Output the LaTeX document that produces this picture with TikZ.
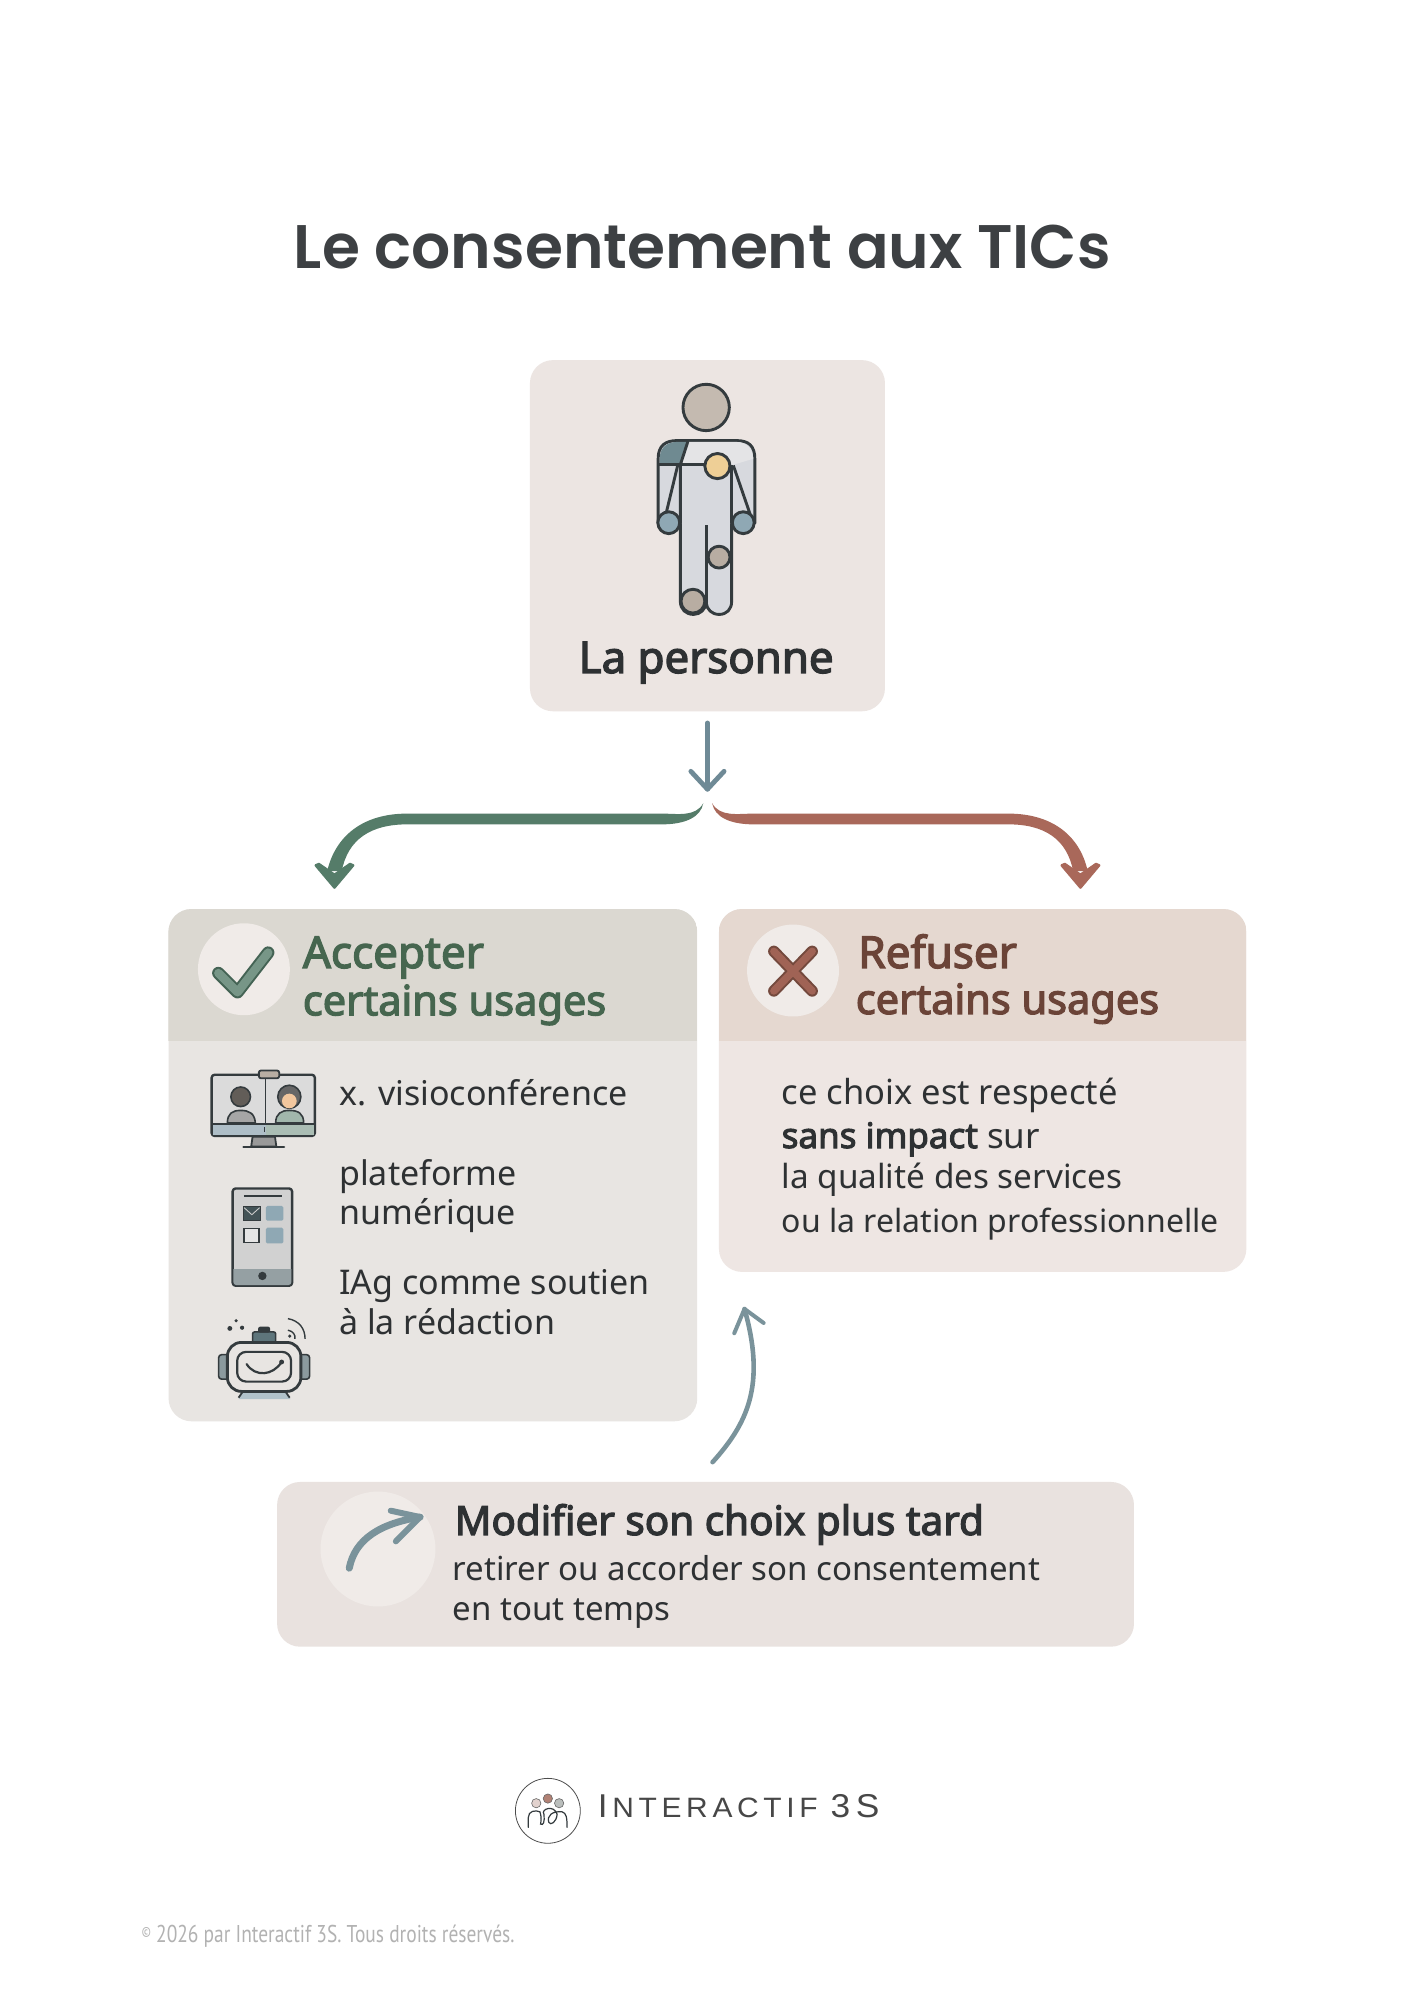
\documentclass[tikz,border=0pt]{standalone}
\usepackage{fontspec}
\usetikzlibrary{calc}
\setmainfont{Noto Sans}[AutoFakeBold=3]
\newfontfamily\ftitle{Poppins SemiBold}
\newfontfamily\fcopy[FakeStretch=0.8]{PT Sans}
\newfontfamily\flogo[FakeStretch=1.07]{Liberation Sans}
\definecolor{ink}{HTML}{2E3133}
\definecolor{titlec}{HTML}{3D4043}
\definecolor{cardp}{HTML}{ECE5E2}
\definecolor{hdrA}{HTML}{DBD8D1}
\definecolor{bodyA}{HTML}{E8E5E2}
\definecolor{hdrR}{HTML}{E5D8D0}
\definecolor{bodyR}{HTML}{EEE6E3}
\definecolor{bodyM}{HTML}{E9E2DF}
\definecolor{disc}{HTML}{F0EBE8}
\definecolor{greenT}{HTML}{46664F}
\definecolor{redT}{HTML}{6B4438}
\definecolor{greenS}{HTML}{557C69}
\definecolor{redS}{HTML}{A9685A}
\definecolor{slate}{HTML}{6F8A96}
\definecolor{slateb}{HTML}{7A939B}
\definecolor{iline}{HTML}{343B3E}
\definecolor{limb}{HTML}{D7D9DE}
\definecolor{light}{HTML}{E4E4E6}
\definecolor{patch}{HTML}{6F8A91}
\definecolor{headc}{HTML}{C4BAB0}
\definecolor{chest}{HTML}{EECF96}
\definecolor{hand}{HTML}{8FA8B4}
\definecolor{knee}{HTML}{B8ADA2}
\def\ux{1.277pt}
\tikzset{
  card/.style={rounded corners=23pt,inner sep=0pt,draw=none},
  txt/.style={anchor=base west,inner sep=0pt},
  ttlbig/.style={txt,font=\fontsize{44}{44}\selectfont\bfseries},
  ttl/.style={txt,font=\fontsize{41.5}{42}\selectfont\bfseries},
  bodytxt/.style={txt,text=ink,font=\fontsize{34}{35}\selectfont},
  ic/.style={draw=iline,line width=2.9pt,line join=round},
  arrowline/.style={line cap=round,line join=round},
}
\begin{document}
\begin{tikzpicture}[x=1.277pt,y=-1.277pt]
\useasboundingbox[fill=white] (0,0) rectangle (1107.28,1566.18);

\node[txt,text=titlec,font=\ftitle\fontsize{61.5}{62}\selectfont] (title) at (230,210) {Le consentement aux TICs};

% person card
\node[card,fill=cardp,minimum width=278*\ux,minimum height=275*\ux] (person) at (554,419.5) {};
\begin{scope}[shift={(408.3,275)},scale=0.2593]
  \draw[ic,fill=headc] (558,170) circle (70);
  \draw[ic,fill=limb] (413,520) -- (413,325) .. controls (413,285) and (435,270) .. (470,270) -- (650,270) .. controls (685,270) and (705,285) .. (705,325) -- (705,520) -- (635,520) -- (635,755) .. controls (635,780) and (620,795) .. (597,795) .. controls (575,795) and (560,780) .. (558,760) .. controls (556,780) and (540,795) .. (520,795) .. controls (497,795) and (480,780) .. (480,755) -- (480,520) -- cycle;
  \fill[patch] (418,343) -- (418,320) .. controls (420,290) and (440,275) .. (470,274) -- (503,274) -- (480,343) -- cycle;
  \fill[light] (507,274) -- (650,274) .. controls (680,275) and (698,295) .. (700,325) -- (640,343) -- (485,343) -- cycle;
  \draw[ic] (415,343) -- (550,343);
  \draw[ic] (503,272) -- (480,343) -- (480,520);
  \draw[ic] (635,343) -- (635,520);
  \draw[ic] (472,345) -- (437,490);
  \draw[ic] (640,345) -- (690,490);
  \draw[ic] (560,525) -- (560,770);
  \draw[ic,fill=hand] (445,518) circle (33);
  \draw[ic,fill=hand] (670,518) circle (33);
  \draw[ic,fill=chest] (592,347) circle (38);
  \draw[ic,fill=knee] (597,622) circle (33);
  \draw[ic,fill=knee] (518,755) circle (36);
\end{scope}
\node[txt,text=ink,font=\fontsize{43.8}{44}\selectfont\bfseries] (plabel) at (453,527) {La personne};

% connectors
\coordinate (dS) at ([yshift=-9*\ux]person.south);
\coordinate (dT) at (554,618);
\draw[arrowline,slate,line width=4.8pt] (dS) -- (dT);
\draw[arrowline,slate,line width=4.8pt] (541,604) -- (dT) -- (567,604);

\begin{scope}[shift={(237.5,565)},xscale=0.4068,yscale=0.2632]
  \coordinate (gS) at (770,243);
  \coordinate (gT) at (60,494);
  \coordinate (rS) at (787,243);
  \coordinate (rT) at (1496,494);
  \fill[greenS] (gS) .. controls (755,285) and (720,274) .. (690,274) -- (200,274) .. controls (115,274) and (62,340) .. (46,445) -- (74,445) .. controls (86,350) and (130,306) .. (200,306) -- (690,306) .. controls (735,306) and (765,285) .. (gS) -- cycle;
  \filldraw[greenS,line width=2.5pt,line join=round] (gT) -- (24,428) -- (30,424) -- (60,456) -- (90,424) -- (96,428) -- cycle;
  \fill[redS] (rS) .. controls (802,285) and (837,274) .. (867,274) -- (1357,274) .. controls (1442,274) and (1495,340) .. (1510,445) -- (1482,445) .. controls (1470,350) and (1427,306) .. (1357,306) -- (867,306) .. controls (822,306) and (792,285) .. (rS) -- cycle;
  \filldraw[redS,line width=2.5pt,line join=round] (rT) -- (1460,428) -- (1466,424) -- (1496,456) -- (1526,424) -- (1532,428) -- cycle;
\end{scope}

% accept card
\node[card,fill=bodyA,minimum width=414*\ux,minimum height=401*\ux] (accept) at (339,912.5) {};
\begin{scope}
  \clip[rounded corners=23pt] (accept.north west) rectangle (accept.south east);
  \fill[hdrA] (accept.north west) rectangle (546,815);
\end{scope}
\fill[disc] (191,759) circle (36);
\draw[line width=12.5pt,draw=greenS!80!black,line join=round,line cap=round] (171,762) -- (186,777) -- (210,746);
\draw[line width=8.5pt,draw=greenS!80!white,line join=round,line cap=round] (171,762) -- (186,777) -- (210,746);
\node[ttlbig,text=greenT] (acc1) at (237,758) {Accepter};
\node[ttl,text=greenT] (acc2) at (237,795) {certains usages};
\node[bodytxt] (a1) at (265.5,866) {x. visioconférence};
\node[bodytxt] (a2) at (265.5,928) {plateforme};
\node[bodytxt] (a3) at (265.5,959) {numérique};
\node[bodytxt] (a4) at (265.5,1014) {IAg comme soutien};
\node[bodytxt] (a5) at (265.5,1045) {à la rédaction};

\begin{scope}[shift={(126,700.5)},scale=0.274]
  % monitor
  \draw[ic,fill=black!14,rounded corners=3pt,line width=2.4pt] (145,515) rectangle (440,690);
  \fill[black!3!hand!70!white] (148,658) rectangle (300,688);
  \fill[greenS!50!white] (300,658) rectangle (437,688);
  \draw[iline,line width=1.8pt] (145,655) -- (440,655);
  \draw[iline,line width=1.2pt] (300,528) -- (300,655);
  \draw[iline,line width=1.2pt] (296,665) -- (296,680);
  \draw[ic,fill=knee,rounded corners=2pt,line width=1.8pt] (280,503) rectangle (338,525);
  \draw[ic,fill=black!40,line width=1.8pt] (262,692) -- (326,692) -- (330,720) -- (258,720) -- cycle;
  \draw[iline,line width=2.4pt,line cap=round] (236,722) -- (352,722);
  \draw[iline,fill=black!50!headc,line width=1.6pt] (228,578) circle (28);
  \draw[iline,fill=black!35,line width=1.6pt] (190,653) .. controls (190,625) and (205,617) .. (228,617) .. controls (252,617) and (268,625) .. (270,653) -- cycle;
  \draw[iline,fill=black!60,line width=1.6pt] (367,578) circle (33);
  \fill[orange!30!cardp] (367,590) circle (21);
  \draw[iline,fill=greenS!55!white,line width=1.6pt] (328,653) .. controls (328,625) and (345,617) .. (367,617) .. controls (392,617) and (408,625) .. (408,653) -- cycle;
  % phone
  \draw[ic,fill=black!18,rounded corners=3pt,line width=2.4pt] (205,840) rectangle (375,1118);
  \begin{scope}
    \clip[rounded corners=3pt] (207,842) rectangle (373,1116);
    \fill[patch!70!black!60!white] (205,1070) rectangle (375,1118);
  \end{scope}
  \draw[iline,line width=1.5pt] (237,862) -- (345,862);
  \draw[iline,fill=patch!60!black,line width=0.8pt] (235,890) rectangle (285,932);
  \draw[white!80!black,line width=0.9pt] (238,895) -- (260,915) -- (282,895);
  \fill[hand,rounded corners=1.5pt] (300,890) rectangle (350,932);
  \draw[iline,fill=white!90!black,line width=1.5pt] (238,955) rectangle (280,995);
  \fill[hand,rounded corners=1.5pt] (300,952) rectangle (350,997);
  \fill[iline] (290,1090) circle (12);
  % robot
  \draw[ic,fill=patch!80!black!70!white,rounded corners=3pt,line width=1.6pt] (165,1315) rectangle (195,1385);
  \draw[ic,fill=patch!80!black!70!white,rounded corners=3pt,line width=1.6pt] (395,1315) rectangle (425,1385);
  \fill[hand!70!white] (235,1415) -- (355,1415) -- (370,1442) -- (222,1442) -- cycle;
  \draw[iline,line width=1.8pt] (240,1412) -- (222,1438);
  \draw[iline,line width=1.8pt] (350,1412) -- (368,1438);
  \draw[ic,fill=patch!85!black,rounded corners=2pt,line width=1.6pt] (262,1250) rectangle (328,1282);
  \fill[iline,rounded corners=2pt] (278,1235) rectangle (312,1252);
  \draw[ic,fill=bodyA,rounded corners=14pt,line width=2.8pt] (190,1280) rectangle (400,1420);
  \draw[ic,fill=bodyA,rounded corners=9pt,line width=2.2pt] (218,1307) rectangle (372,1392);
  \draw[iline,line width=2.2pt,line cap=round] (245,1342) .. controls (270,1380) and (320,1375) .. (345,1336);
  \fill[iline] (345,1336) circle (7);
  \fill[iline] (197,1240) circle (7);
  \fill[iline] (215,1218) circle (5);
  \fill[iline] (232,1238) circle (6);
  \draw[iline,line width=1.4pt] (363,1245) .. controls (378,1248) and (385,1258) .. (383,1270);
  \draw[iline,line width=1.4pt] (363,1212) .. controls (395,1218) and (412,1240) .. (412,1270);
  \fill[iline] (368,1262) circle (5);
\end{scope}

% refuse card
\node[card,fill=bodyR,minimum width=413*\ux,minimum height=284*\ux] (refuse) at (769.5,854) {};
\begin{scope}
  \clip[rounded corners=23pt] (refuse.north west) rectangle (refuse.south east);
  \fill[hdrR] (refuse.north west) rectangle (976,815);
\end{scope}
\fill[disc] (621,760) circle (36);
\draw[line width=11.5pt,draw=redT!85!redS,line cap=round] (606,745) -- (636,776);
\draw[line width=11.5pt,draw=redT!85!redS,line cap=round] (636,745) -- (606,776);
\draw[line width=7.5pt,draw=redS!85!redT,line cap=round] (606,745) -- (636,776);
\draw[line width=7.5pt,draw=redS!85!redT,line cap=round] (636,745) -- (606,776);
\node[ttlbig,text=redT] (ref1) at (672,758) {Refuser};
\node[ttl,text=redT] (ref2) at (670,794) {certains usages};
\node[bodytxt,font=\fontsize{34.5}{35}\selectfont] (r1) at (612,865) {ce choix est respecté};
\node[bodytxt,font=\fontsize{35}{35}\selectfont] (r2) at (612,899) {\textbf{sans impact} sur};
\node[bodytxt,font=\fontsize{33.3}{35}\selectfont] (r3) at (612,931) {la qualité des services};
\node[bodytxt,font=\fontsize{32}{35}\selectfont] (r4) at (612,965) {ou la relation professionnelle};

% modify card
\node[card,fill=bodyM,minimum width=671*\ux,minimum height=129*\ux] (modify) at (552.5,1225) {};
\fill[disc] (296,1213) circle (45);
\node[txt,text=ink,font=\fontsize{40.4}{40}\selectfont\bfseries] (m1) at (356,1202) {Modifier son choix plus tard};
\node[bodytxt,font=\fontsize{33}{34}\selectfont] (m2) at (354.5,1238) {retirer ou accorder son consentement};
\node[bodytxt,font=\fontsize{33}{34}\selectfont] (m3) at (354.5,1269) {en tout temps};

\coordinate (iS) at (273.5,1228);
\coordinate (iT) at (329,1188);
\draw[arrowline,slateb,line width=7pt] (iS) .. controls (278,1205) and (298,1193) .. (iT);
\draw[arrowline,slateb,line width=6pt] (306,1183) -- (iT) -- (310,1207);

\coordinate (uS) at (558,1145);
\coordinate (uT) at (583,1025);
\draw[arrowline,slateb,line width=4.6pt] (uS) .. controls (585,1115) and (600,1085) .. (uT);
\draw[arrowline,slateb,line width=4pt] (575,1044) -- (uT) -- (598,1036);

% logo
\begin{scope}[shift={(392.2,1388.2)},scale=0.2593]
  \draw[black!70,line width=0.8pt] (142,115) circle (98);
  \draw[black!60,line width=0.6pt,fill=cardp!85!redS] (107,92) circle (14);
  \draw[black!60,line width=0.6pt,fill=greenS!30!black!30!white] (176,92) circle (14);
  \draw[black!60,line width=0.6pt,fill=redS!70!headc] (142,78) circle (14);
  \draw[iline,line width=1.2pt,line cap=round] (83,165) -- (83,135) .. controls (83,115) and (105,112) .. (118,118) .. controls (125,140) and (120,150) .. (120,155) .. controls (128,160) and (133,150) .. (130,125) .. controls (120,110) and (160,95) .. (170,125) .. controls (168,150) and (150,160) .. (145,150) .. controls (138,130) and (155,115) .. (185,118) .. controls (198,122) and (200,135) .. (200,165);
\end{scope}
\node[txt,text=black!72,font=\flogo\fontsize{28}{28}\selectfont] (logo) at (468,1423) {\fontsize{33}{33}\selectfont I\fontsize{28}{28}\selectfont\,N\,T\,E\,R\,A\,C\,T\,I\,F\, \fontsize{33}{33}\selectfont 3\,S};

\node[txt,text=black!30,font=\fcopy\fontsize{24.3}{24}\selectfont] (copy) at (111,1521) {\raisebox{.45ex}{\fontsize{14}{14}\selectfont ©} 2026 par Interactif 3S. Tous droits réservés.};
\end{tikzpicture}
\end{document}
